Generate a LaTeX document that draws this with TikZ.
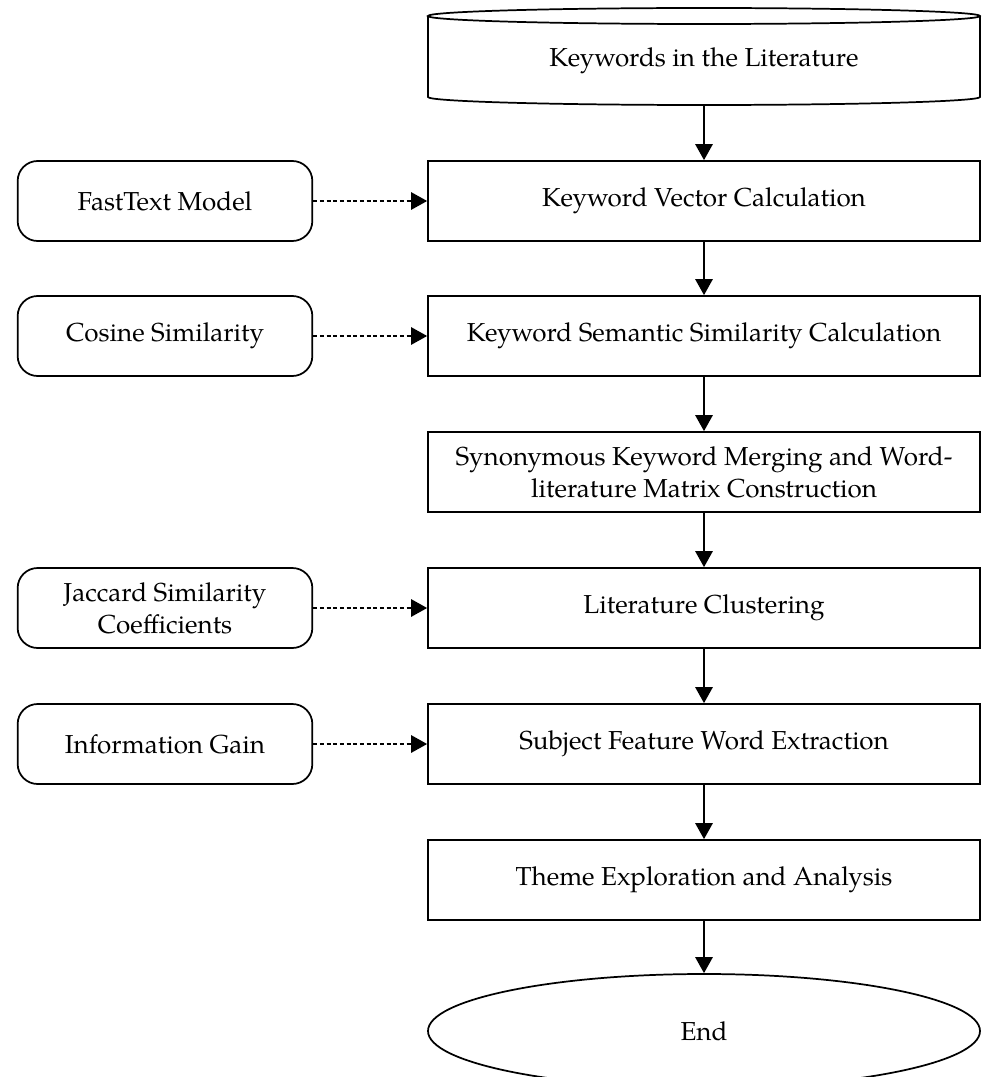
\documentclass[tikz,border=0pt]{standalone}
\usepackage{fontspec}
\setmainfont{TeX Gyre Pagella}
\usetikzlibrary{arrows.meta,shapes.geometric}
\begin{document}
\begin{tikzpicture}[x=0.75pt,y=-0.75pt,
  line width=1.3pt,
  txt/.style={font=\fontsize{19.5}{24}\selectfont, align=center},
  mainbox/.style={txt, draw, rectangle, minimum width=414pt, minimum height=60pt, inner sep=2pt},
  sidebox/.style={txt, draw, rectangle, rounded corners=15pt, minimum width=221pt, minimum height=60pt, inner sep=2pt},
  endnode/.style={txt, draw, ellipse, minimum width=414pt, minimum height=85.5pt},
  flow/.style={-{Triangle[width=13pt,length=12pt]}},
  aux/.style={flow, dash pattern=on 3pt off 2pt}]
\useasboundingbox (0,0) rectangle (981,1077);
\clip (0,0) rectangle (981,1077);
% cylinder
\draw (428,16) -- (428,97) arc[start angle=180,end angle=0,x radius=276,y radius=8] -- (980,16);
\draw (704,16) ellipse [x radius=276, y radius=8];
\node[txt, minimum width=414pt, minimum height=66.75pt, inner sep=0pt] (kw) at (704,60.5) {Keywords in the Literature};
% main column
\node[mainbox] (kvc) at (704,201) {Keyword Vector Calculation};
\node[mainbox] (ksc) at (704,336) {Keyword Semantic Similarity Calculation};
\node[mainbox] (syn) at (704,472) {Synonymous Keyword Merging and Word-\\literature Matrix Construction};
\node[mainbox] (lc) at (704,608) {Literature Clustering};
\node[mainbox] (sfw) at (704,744) {Subject Feature Word Extraction};
\node[mainbox] (tea) at (704,880) {Theme Exploration and Analysis};
\node[endnode] (end) at (704,1031) {End};
% side boxes
\node[sidebox] (ft) at (165,201) {FastText Model};
\node[sidebox] (cs) at (165,336) {Cosine Similarity};
\node[sidebox] (jac) at (165,608) {Jaccard Similarity\\Coefficients};
\node[sidebox] (ig) at (165,744) {Information Gain};
% connectors
\draw[flow] (kw) -- (kvc);
\draw[flow] (kvc) -- (ksc);
\draw[flow] (ksc) -- (syn);
\draw[flow] (syn) -- (lc);
\draw[flow] (lc) -- (sfw);
\draw[flow] (sfw) -- (tea);
\draw[flow] (tea) -- (end);
\draw[aux] (ft) -- (kvc);
\draw[aux] (cs) -- (ksc);
\draw[aux] (jac) -- (lc);
\draw[aux] (ig) -- (sfw);
\end{tikzpicture}
\end{document}
